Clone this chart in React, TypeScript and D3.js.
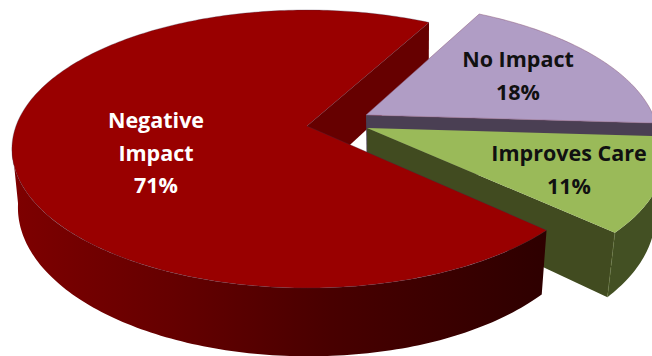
import React from "react";
import * as d3 from "d3";

const categories = ["Negative Impact", "No Impact", "Improves Care"];
const shares = [71, 18, 11];
const labelLines = [["Negative", "Impact", "71%"], ["No Impact", "18%"], ["Improves Care", "11%"]];

const topColors = ["#990000", "#b09dc5", "#9aba59"];
const cutColors = ["#660000", "#4a3f53", "#414b20"];
const labelColors = ["#ffffff", "#111111", "#111111"];
const labelCentres = [[156, 120], [518, 59], [569, 153]];
const explode = [[0, 0], [0.2055, -0.0825], [0.2057, 0.0148]];

const WIDTH = 652;
const HEIGHT = 356;
const deg = Math.PI / 180;

// Vertical edges converge slightly towards the bottom of the pie.
const convergence = d3.scaleLinear().domain([12, 420, 616]).range([6, 0, -7.5]);

// Perspective projection of the unit disc onto the page; apex of the pie at (307, 126).
const K = 0.1655;
const project = (u: number, v: number, lower = false): [number, number] => {
  const w = 1 - K * v;
  const x = 307 + (291 * u) / w;
  const y = 126 + (135.2 * v) / w;
  if (!lower) return [x, y];
  return [x + convergence(x), y + 57 / w];
};

const rim = (a: number, off: number[]) => [off[0] + Math.sin(a), off[1] - Math.cos(a)];
const line = d3.line();

const sweep = (a0: number, a1: number, off: number[], lower = false) => {
  const n = Math.max(2, Math.ceil(Math.abs(a1 - a0) / deg));
  return d3.range(n + 1).map((i) => {
    const [u, v] = rim(a0 + ((a1 - a0) * i) / n, off);
    return project(u, v, lower);
  });
};

const arcs = d3
  .pie<number>()
  .sort(null)
  .startAngle(133.1 * deg)
  .endAngle(493.1 * deg)(shares);

const topFace = (i: number) => {
  const a = arcs[i];
  const off = explode[i];
  return line([project(off[0], off[1]), ...sweep(a.startAngle, a.endAngle, off)]) + "Z";
};

// Outer rim wall between two angles, extruded downwards.
const rimWall = (i: number, a0: number, a1: number) => {
  const off = explode[i];
  return line([...sweep(a0, a1, off), ...sweep(a0, a1, off, true).reverse()]) + "Z";
};

// Flat cut face running from the slice apex to the rim at angle a.
const cutWall = (i: number, a: number) => {
  const off = explode[i];
  const [u, v] = rim(a, off);
  return (
    line([
      project(off[0], off[1]),
      project(u, v),
      project(u, v, true),
      project(off[0], off[1], true),
    ]) + "Z"
  );
};

export default function App() {
  const [red, purple, green] = arcs;
  const redRimEnd = 262 * deg;
  const corner = (() => {
    const [u, v] = rim(green.endAngle, explode[2]);
    return line([project(u, v), project(u, v, true)]) as string;
  })();
  const edge = "#3d2f4a";
  return (
    <svg
      width={WIDTH}
      height={HEIGHT}
      viewBox={`0 0 ${WIDTH} ${HEIGHT}`}
      style={{ position: "absolute", left: 0, top: 0, background: "#fff" }}
    >
      <defs>
        <linearGradient id="redRim" gradientUnits="userSpaceOnUse" x1={12} x2={545} y1={0} y2={0}>
          <stop offset="0" stopColor="#7e0000" />
          <stop offset="0.3" stopColor="#650000" />
          <stop offset="0.6" stopColor="#480000" />
          <stop offset="1" stopColor="#2e0000" />
        </linearGradient>
      </defs>

      {/* inner cut of the large slice, seen through the gap */}
      <path d={cutWall(0, red.endAngle)} fill={cutColors[0]} />

      {/* exploded back slice */}
      <path d={cutWall(1, purple.endAngle)} fill={cutColors[1]} />
      <path d={topFace(1)} fill={topColors[1]} stroke="#8a5a7a" strokeWidth={0.5} />

      {/* exploded front slice */}
      <path d={cutWall(2, green.endAngle)} fill={cutColors[2]} />
      <path d={rimWall(2, green.startAngle, green.endAngle)} fill="#435023" />
      <path d={corner} stroke="#6f8040" strokeWidth={0.6} strokeDasharray="3 2" fill="none" />
      <path d={topFace(2)} fill={topColors[2]} />

      {/* large slice in front of everything else */}
      <path d={rimWall(0, red.startAngle, redRimEnd)} fill="url(#redRim)" />
      <path d={topFace(0)} fill={topColors[0]} stroke={edge} strokeWidth={0.5} strokeOpacity={0.6} />

      {labelLines.map((lines, i) => (
        <text
          key={categories[i]}
          textAnchor="middle"
          fontFamily="'Open Sans', sans-serif"
          fontWeight={700}
          fontSize={21.5}
          fill={labelColors[i]}
        >
          {lines.map((t, j) => (
            <tspan key={t} x={labelCentres[i][0]} y={labelCentres[i][1] + 8 + j * 32.5}>
              {t}
            </tspan>
          ))}
        </text>
      ))}
    </svg>
  );
}
